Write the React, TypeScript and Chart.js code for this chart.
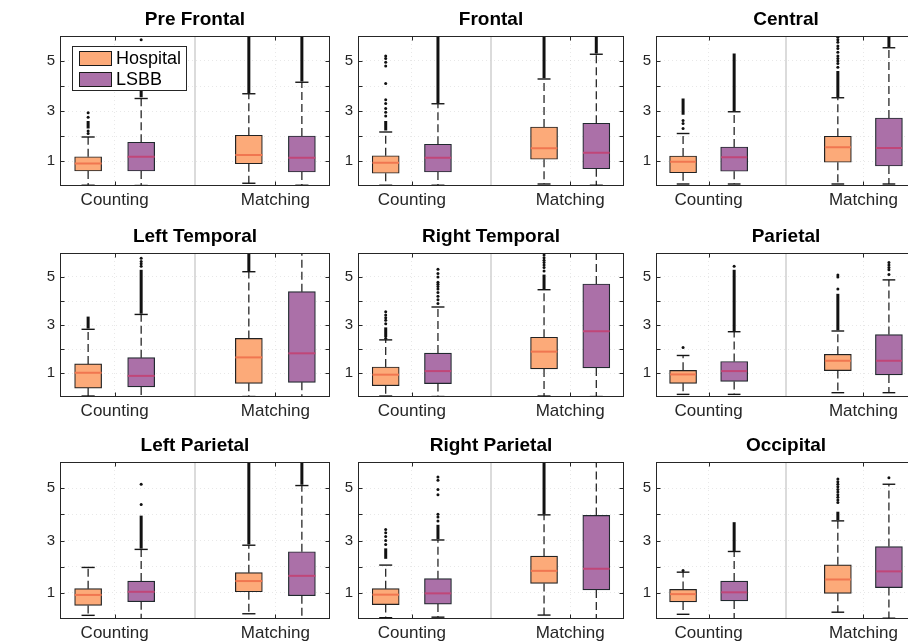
import React, { useEffect, useRef } from 'react';
import { Chart, registerables } from 'chart.js';

Chart.register(...registerables);

// ---------------- data ----------------
const regions = [
  'Pre Frontal', 'Frontal', 'Central',
  'Left Temporal', 'Right Temporal', 'Parietal',
  'Left Parietal', 'Right Parietal', 'Occipital',
];
const groups = ['Counting', 'Matching'];
const series = ['Hospital', 'LSBB'];
const yTickLabels = [1, 3, 5];

// each row = one region; columns = Hospital-Counting, LSBB-Counting, Hospital-Matching, LSBB-Matching
const lowerWhisker = [
  [0.03, 0.02, 0.11, 0.03],
  [0.03, 0.03, 0.08, 0.03],
  [0.08, 0.08, 0.08, 0.08],
  [0.04, 0.00, 0.02, 0.00],
  [0.04, 0.02, 0.04, 0.02],
  [0.11, 0.11, 0.18, 0.18],
  [0.14, 0.01, 0.20, 0.01],
  [0.05, 0.07, 0.15, 0.01],
  [0.18, 0.01, 0.26, 0.03],
];
const q1 = [
  [0.60, 0.60, 0.89, 0.56],
  [0.51, 0.56, 1.07, 0.69],
  [0.53, 0.59, 0.95, 0.80],
  [0.37, 0.42, 0.57, 0.61],
  [0.47, 0.56, 1.17, 1.21],
  [0.57, 0.65, 1.10, 0.92],
  [0.52, 0.66, 1.04, 0.89],
  [0.55, 0.57, 1.36, 1.11],
  [0.65, 0.69, 0.98, 1.20],
];
const median = [
  [0.90, 1.17, 1.24, 1.13],
  [0.93, 1.13, 1.51, 1.33],
  [0.97, 1.15, 1.55, 1.52],
  [1.01, 0.88, 1.65, 1.82],
  [0.93, 1.08, 1.89, 2.74],
  [0.94, 1.08, 1.51, 1.51],
  [0.92, 1.04, 1.45, 1.65],
  [0.93, 0.98, 1.84, 1.92],
  [0.95, 1.02, 1.51, 1.82],
];
const q3 = [
  [1.17, 1.75, 2.03, 2.00],
  [1.21, 1.67, 2.36, 2.51],
  [1.20, 1.56, 1.99, 2.72],
  [1.38, 1.64, 2.44, 4.39],
  [1.25, 1.83, 2.49, 4.71],
  [1.11, 1.48, 1.78, 2.60],
  [1.16, 1.45, 1.77, 2.57],
  [1.16, 1.54, 2.40, 3.96],
  [1.13, 1.45, 2.07, 2.77],
];
const upperWhisker = [
  [1.96, 3.50, 3.69, 4.15],
  [2.16, 3.29, 4.28, 5.27],
  [2.10, 2.97, 3.53, 5.53],
  [2.82, 3.44, 5.22, 6.40],
  [2.38, 3.75, 4.47, 6.40],
  [1.73, 2.72, 2.75, 4.88],
  [1.97, 2.66, 2.82, 5.10],
  [2.06, 3.02, 3.98, 6.40],
  [1.79, 2.58, 3.75, 5.15],
];
// ranges where outliers are so dense that they merge into a solid stroke
const denseOutliers: (number[] | null)[][] = [
  [[2.30, 2.60], [3.55, 5.50], [3.72, 6.10], [4.18, 6.10]],
  [[2.22, 2.60], [3.32, 6.10], [4.31, 6.10], [5.30, 6.10]],
  [[2.85, 3.50], [3.00, 5.30], [3.56, 4.60], [5.56, 6.10]],
  [[2.85, 3.35], [3.47, 5.30], [5.25, 6.10], null],
  [[2.50, 2.90], null, [4.50, 5.10], null],
  [null, [2.75, 5.30], [2.78, 4.30], null],
  [null, [2.69, 3.95], [2.85, 6.10], [5.13, 6.10]],
  [[2.30, 2.70], [3.05, 3.60], [4.00, 6.10], null],
  [null, [2.60, 3.70], [3.78, 4.10], null],
];
// individual outlier points
const sparseOutliers: number[][][] = [
  [[2.10, 2.20, 2.75, 2.93], [5.85], [], []],
  [[2.80, 2.95, 3.10, 3.30, 3.45, 4.10, 4.80, 4.95, 5.10, 5.20], [], [], []],
  [[2.30, 2.50, 2.62], [], [4.75, 4.90, 5.00, 5.10, 5.20, 5.35, 5.50, 5.60, 5.75, 5.85, 5.95], []],
  [[], [5.45, 5.55, 5.65, 5.78], [], []],
  [[2.45, 3.05, 3.20, 3.30, 3.42, 3.55], [3.90, 4.05, 4.20, 4.35, 4.50, 4.60, 4.70, 4.78, 5.00, 5.15, 5.32], [5.25, 5.40, 5.50, 5.60, 5.70, 5.80, 5.92], []],
  [[2.06], [5.45], [4.50, 5.00, 5.08], [5.10, 5.30, 5.40, 5.50, 5.60]],
  [[], [4.38, 5.15], [], []],
  [[2.85, 3.00, 3.15, 3.30, 3.42], [3.75, 3.90, 4.00, 4.75, 4.95, 5.30, 5.43], [], []],
  [[1.85], [], [4.45, 4.55, 4.65, 4.75, 4.85, 4.95, 5.05, 5.15, 5.25, 5.35], [5.40]],
];

// ---------------- styling / layout ----------------
const FONT = '"Liberation Sans", Arial, Helvetica, sans-serif';
const FILL = ['rgb(252,170,121)', 'rgb(171,112,168)'];
const EDGE = ['#222222', '#20292e'];
const MEDIAN_COLOR = ['rgb(240,118,80)', 'rgb(192,70,120)'];
const GRID = 'rgba(0,0,0,0.09)';
const WHISKER = '#161616';
const AXIS_W = 45;
const TITLE_H = 32;
const XAXIS_H = 30;
const COL_L = [60, 358, 656];
const COL_R = [330, 624, 916];
const ROW_T = [36, 253, 462];
const ROW_B = [186, 397, 619];
const X_MIN = 0.66;
const X_MAX = 2.34;
const SERIES_OFFSET = 0.165;
const BOX_HALF = 0.084;
const CAP_HALF = 0.041;
const groupPos = groups.map((_, g) => g + 1);

function xOf(box: number) {
  const g = Math.floor(box / 2);
  const s = box % 2;
  return groupPos[g] + (s === 0 ? -SERIES_OFFSET : SERIES_OFFSET);
}

function seg(data: { x: number; y: number }[], color: string, width: number, dash: number[] = [], order = 5) {
  return {
    type: 'line' as const,
    data,
    borderColor: color,
    borderWidth: width,
    borderDash: dash,
    pointRadius: 0,
    tension: 0,
    fill: false,
    clip: 0,
    order,
    xAxisID: 'x',
    yAxisID: 'y',
  };
}

function buildDatasets(idx: number) {
  const ds: any[] = [];
  // divider between the two groups
  ds.push(seg([{ x: 1.5, y: 0 }, { x: 1.5, y: 6 }], '#cfcfcf', 1.5, [], 40));
  // boxes
  series.forEach((name, s) => {
    ds.push({
      type: 'bar',
      label: name,
      data: groups.map((_, g) => {
        const b = g * 2 + s;
        return { x: xOf(b), y: [q1[idx][b], q3[idx][b]] };
      }),
      backgroundColor: FILL[s],
      borderColor: EDGE[s],
      borderWidth: 1.2,
      borderSkipped: false,
      barThickness: 27,
      grouped: false,
      order: 20,
      xAxisID: 'x',
      yAxisID: 'y',
    });
  });
  for (let b = 0; b < 4; b++) {
    const s = b % 2;
    const x = xOf(b);
    // median
    ds.push(seg([{ x: x - BOX_HALF, y: median[idx][b] }, { x: x + BOX_HALF, y: median[idx][b] }], MEDIAN_COLOR[s], 2, [], 5));
    // whiskers
    ds.push(seg([{ x, y: q3[idx][b] }, { x, y: upperWhisker[idx][b] }], WHISKER, 1.2, [8, 4], 10));
    ds.push(seg([{ x, y: q1[idx][b] }, { x, y: lowerWhisker[idx][b] }], WHISKER, 1.2, [8, 4], 10));
    // caps
    ds.push(seg([{ x: x - CAP_HALF, y: upperWhisker[idx][b] }, { x: x + CAP_HALF, y: upperWhisker[idx][b] }], WHISKER, 1.4, [], 10));
    ds.push(seg([{ x: x - CAP_HALF, y: lowerWhisker[idx][b] }, { x: x + CAP_HALF, y: lowerWhisker[idx][b] }], WHISKER, 1.4, [], 10));
    // dense outliers
    const d = denseOutliers[idx][b];
    if (d) ds.push(seg([{ x, y: d[0] }, { x, y: d[1] }], '#111', 3, [], 2));
    // sparse outliers
    const sp = sparseOutliers[idx][b];
    if (sp.length) {
      ds.push({
        type: 'line',
        data: sp.map((v) => ({ x, y: v })),
        showLine: false,
        pointRadius: 1.5,
        pointBackgroundColor: '#111',
        pointBorderWidth: 0,
        clip: 0,
        order: 2,
        xAxisID: 'x',
        yAxisID: 'y',
      });
    }
  }
  return ds;
}

const framePlugin = {
  id: 'frameTicks',
  afterDatasetsDraw(chart: any) {
    const { ctx, chartArea: a, scales } = chart;
    ctx.save();
    ctx.setLineDash([]);
    ctx.strokeStyle = '#262626';
    ctx.lineWidth = 1;
    const L = Math.round(a.left) + 0.5;
    const R = Math.round(a.right) - 0.5;
    const T = Math.round(a.top) + 0.5;
    const B = Math.round(a.bottom) - 0.5;
    ctx.strokeRect(L, T, R - L, B - T);
    ctx.beginPath();
    scales.y.ticks.forEach((t: any) => {
      if (t.value <= 0 || t.value >= 6) return;
      const py = Math.round(scales.y.getPixelForValue(t.value)) + 0.5;
      ctx.moveTo(L, py); ctx.lineTo(L + 4, py);
      ctx.moveTo(R, py); ctx.lineTo(R - 4, py);
    });
    groupPos.forEach((v) => {
      const px = Math.round(scales.x.getPixelForValue(v)) + 0.5;
      ctx.moveTo(px, B); ctx.lineTo(px, B - 4);
      ctx.moveTo(px, T); ctx.lineTo(px, T + 4);
    });
    ctx.stroke();
    ctx.restore();
  },
};

const legendPlugin = {
  id: 'boxLegend',
  afterDraw(chart: any) {
    const { ctx, chartArea: a } = chart;
    const x0 = Math.round(a.left) + 12;
    const y0 = Math.round(a.top) + 10;
    const w = 114;
    const h = 44;
    ctx.save();
    ctx.setLineDash([]);
    ctx.fillStyle = '#fff';
    ctx.fillRect(x0, y0, w, h);
    ctx.strokeStyle = '#262626';
    ctx.lineWidth = 1;
    ctx.strokeRect(x0 + 0.5, y0 + 0.5, w, h);
    series.forEach((name, i) => {
      const cy = y0 + 12 + i * 21;
      ctx.fillStyle = FILL[i];
      ctx.fillRect(x0 + 7, cy - 7, 32, 14);
      ctx.strokeStyle = '#1a1a1a';
      ctx.strokeRect(x0 + 7.5, cy - 6.5, 32, 14);
      ctx.fillStyle = '#000';
      ctx.font = `18px ${FONT}`;
      ctx.textBaseline = 'middle';
      ctx.textAlign = 'left';
      ctx.fillText(name, x0 + 44, cy + 1);
    });
    ctx.restore();
  },
};

function Panel({ idx }: { idx: number }) {
  const ref = useRef<HTMLCanvasElement>(null);
  const r = Math.floor(idx / 3);
  const c = idx % 3;
  const plotW = COL_R[c] - COL_L[c];
  const plotH = ROW_B[r] - ROW_T[r];
  const W = plotW + 2 * AXIS_W;
  const H = plotH + TITLE_H + XAXIS_H;

  useEffect(() => {
    if (!ref.current) return;
    const plugins: any[] = [framePlugin];
    if (idx === 0) plugins.push(legendPlugin);
    const chart = new Chart(ref.current, {
      type: 'bar',
      data: { datasets: buildDatasets(idx) },
      plugins,
      options: {
        responsive: false,
        animation: false,
        devicePixelRatio: 1,
        events: [],
        layout: { padding: 0 },
        plugins: {
          legend: { display: false },
          tooltip: { enabled: false },
          title: {
            display: true,
            text: regions[idx],
            color: '#000',
            font: { family: FONT, size: 19, weight: 'bold' },
            padding: { top: 4, bottom: 5.2 },
          },
        },
        scales: {
          x: {
            type: 'linear',
            min: X_MIN,
            max: X_MAX,
            offset: false,
            afterBuildTicks: (s: any) => {
              s.ticks = groupPos.map((v) => ({ value: v }));
            },
            afterFit: (s: any) => {
              s.height = XAXIS_H;
            },
            ticks: {
              autoSkip: false,
              maxRotation: 0,
              padding: 4,
              color: '#262626',
              font: { family: FONT, size: 17 },
              callback: (_v: any, i: number) => groups[i],
            },
            grid: { color: GRID, drawTicks: false, offset: false, lineWidth: 1 },
            border: { display: false, dash: [1, 3] },
          },
          y: {
            type: 'linear',
            min: 0,
            max: 6,
            afterFit: (s: any) => {
              s.width = AXIS_W;
            },
            ticks: {
              stepSize: 1,
              padding: 5,
              color: '#262626',
              font: { family: FONT, size: 15 },
              callback: (v: any) => (yTickLabels.includes(Number(v)) ? String(v) : ''),
            },
            grid: {
              drawTicks: false,
              lineWidth: 1,
              color: (ctx: any) =>
                ctx.tick && (ctx.tick.value <= 0 || ctx.tick.value >= 6) ? 'rgba(0,0,0,0)' : GRID,
            },
            border: { display: false, dash: [1, 3] },
          },
          yr: {
            type: 'linear',
            position: 'right',
            min: 0,
            max: 6,
            afterFit: (s: any) => {
              s.width = AXIS_W;
            },
            ticks: { display: false },
            grid: { display: false, drawTicks: false },
            border: { display: false },
          },
        },
      } as any,
    });
    return () => chart.destroy();
  }, [idx]);

  return (
    <canvas
      ref={ref}
      width={W}
      height={H}
      style={{
        position: 'absolute',
        left: COL_L[c] - AXIS_W,
        top: ROW_T[r] - TITLE_H,
        width: W,
        height: H,
      }}
    />
  );
}

export default function App() {
  return (
    <div
      style={{
        position: 'absolute',
        left: 0,
        top: 0,
        width: 908,
        height: 644,
        overflow: 'hidden',
        background: '#fff',
      }}
    >
      {regions.map((_, i) => (
        <Panel key={i} idx={i} />
      ))}
    </div>
  );
}
